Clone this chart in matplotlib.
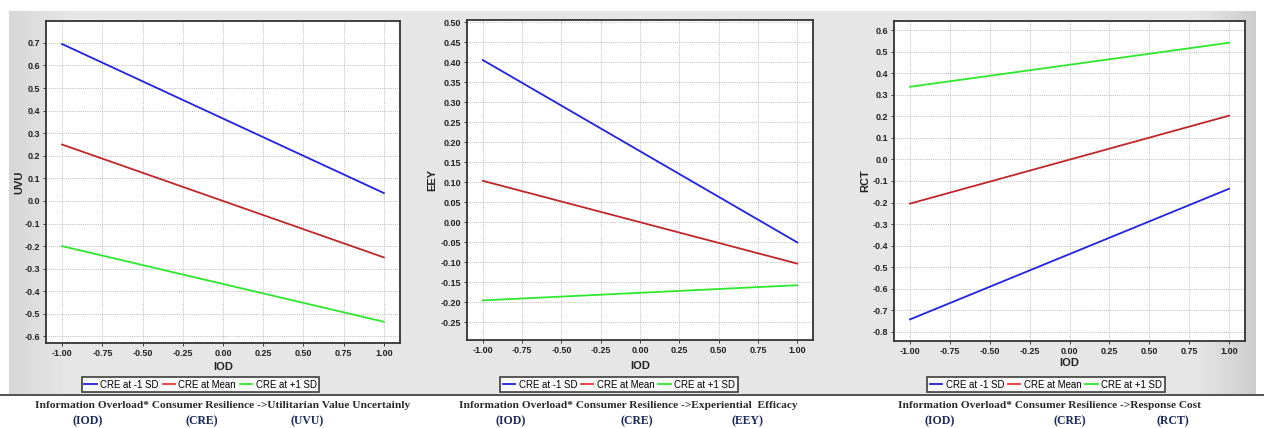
import matplotlib
matplotlib.use("Agg")
import matplotlib.pyplot as plt
from matplotlib.lines import Line2D
import numpy as np

# ---- data ----
iod = [-1.0, 1.0]
series_labels = ["CRE at -1 SD", "CRE at Mean", "CRE at +1 SD"]

uvu_low = [0.695, 0.035]
uvu_mean = [0.25, -0.25]
uvu_high = [-0.20, -0.535]

eey_low = [0.405, -0.051]
eey_mean = [0.103, -0.104]
eey_high = [-0.196, -0.158]

rct_low = [-0.742, -0.136]
rct_mean = [-0.205, 0.203]
rct_high = [0.337, 0.541]

xticks = [-1.0, -0.75, -0.5, -0.25, 0.0, 0.25, 0.5, 0.75, 1.0]
uvu_ticks = [0.7, 0.6, 0.5, 0.4, 0.3, 0.2, 0.1, 0.0, -0.1, -0.2, -0.3, -0.4, -0.5, -0.6]
eey_ticks = [0.50, 0.45, 0.40, 0.35, 0.30, 0.25, 0.20, 0.15, 0.10, 0.05, 0.0,
             -0.05, -0.10, -0.15, -0.20, -0.25]
rct_ticks = [0.6, 0.5, 0.4, 0.3, 0.2, 0.1, 0.0, -0.1, -0.2, -0.3, -0.4, -0.5,
             -0.6, -0.7, -0.8]

captions = [
    "Information Overload* Consumer Resilience ->Utilitarian Value Uncertainly",
    "Information Overload* Consumer Resilience ->Experiential  Efficacy",
    "Information Overload* Consumer Resilience ->Response Cost",
]
abbrevs = [["(IOD)", "(CRE)", "(UVU)"], ["(IOD)", "(CRE)", "(EEY)"], ["(IOD)", "(CRE)", "(RCT)"]]
ylabels = ["UVU", "EEY", "RCT"]

colors = ["#2222e0", "#c0262a", "#2ee82e"]
legend_colors = ["#2222e0", "#ee3333", "#2ee82e"]

W, H = 1264, 428
fig = plt.figure(figsize=(W / 100, H / 100), dpi=100)
fig.patch.set_facecolor("white")

# grey panel background
bg = fig.add_axes([0, 0, 1, 1], zorder=-10)
bg.set_xlim(0, W)
bg.set_ylim(H, 0)
bg.axis("off")
grad = np.tile(np.concatenate([np.linspace(0.84, 0.90, 60), np.full(1127, 0.90),
                               np.linspace(0.90, 0.80, 60)]), (10, 1))
bg.imshow(grad, cmap="gray", vmin=0, vmax=1, extent=[9, 1256, 394, 11], aspect="auto")
bg.plot([0, W], [394.5, 394.5], color="#333333", lw=1.2)

tickfont = dict(family="Liberation Sans", size=6.5, weight="bold")

panels = [
    dict(rect=[46, 21, 400, 343], ylim=(-0.629, 0.797), yt=uvu_ticks, fmt="{:.1f}",
         data=[uvu_low, uvu_mean, uvu_high], ylx=19, xlx=367),
    dict(rect=[467, 20, 813, 340], ylim=(-0.295, 0.505), yt=eey_ticks, fmt="{:.2f}",
         data=[eey_low, eey_mean, eey_high], ylx=432, xlx=366),
    dict(rect=[894, 21, 1245, 341], ylim=(-0.842, 0.642), yt=rct_ticks, fmt="{:.1f}",
         data=[rct_low, rct_mean, rct_high], ylx=865, xlx=363),
]
legend_boxes = [(88, 313), (501, 737), (928, 1164)]
caption_x = [(37, 408), (461, 796), (900, 1199)]
abbrev_x = [[88, 202, 307], [511, 637, 748], [940, 1070, 1173]]

for i, p in enumerate(panels):
    x0, y0, x1, y1 = p["rect"]
    ax = fig.add_axes([x0 / W, 1 - y1 / H, (x1 - x0) / W, (y1 - y0) / H])
    ax.set_facecolor("white")
    for s, c in zip(p["data"], colors):
        ax.plot(iod, s, color=c, lw=1.3)
    ax.set_xlim(-1.1, 1.1)
    ax.set_ylim(*p["ylim"])
    ax.set_xticks(xticks)
    ax.set_xticklabels(["{:.2f}".format(v) for v in xticks], **tickfont)
    ax.set_yticks(p["yt"])
    ax.set_yticklabels([p["fmt"].format(v) for v in p["yt"]], **tickfont)
    ax.tick_params(length=2, width=0.6, pad=2, colors="#222222")
    ax.grid(True, color="#bcbcbc", linestyle=(0, (1, 1.2)), lw=0.7)
    for sp in ax.spines.values():
        sp.set_color("#333333")
        sp.set_linewidth(1.3)
    fig.text(p["ylx"] / W, 1 - ((y0 + y1) / 2) / H, ylabels[i], rotation=90,
             ha="center", va="center", family="Liberation Sans", size=8, weight="bold",
             color="#222222")
    fig.text(((x0 + x1) / 2) / W, 1 - p["xlx"] / H, "IOD", ha="center", va="center",
             family="Liberation Sans", size=8, weight="bold", color="#222222")

    # legend
    lx0, lx1 = legend_boxes[i]
    handles = [Line2D([], [], color=c, lw=1.3) for c in legend_colors]
    leg = fig.legend(handles, series_labels, loc="center",
                     bbox_to_anchor=(((lx0 + lx1) / 2) / W, 1 - 384.5 / H),
                     ncol=3, frameon=True, fancybox=False, handlelength=1.3,
                     handletextpad=0.35, columnspacing=0.4, borderpad=0.25,
                     borderaxespad=0, prop=dict(family="Liberation Sans", size=6.9))
    leg.get_frame().set_edgecolor("#111111")
    leg.get_frame().set_linewidth(1.2)
    leg.get_frame().set_facecolor("white")

    cx0, cx1 = caption_x[i]
    fig.text(((cx0 + cx1) / 2) / W, 1 - 406 / H, captions[i], ha="center", va="center",
             family="Liberation Serif", size=8.2, weight="bold", color="#2a2a2a")
    for ab, axx in zip(abbrevs[i], abbrev_x[i]):
        fig.text(axx / W, 1 - 421 / H, ab, ha="center", va="center",
                 family="Liberation Serif", size=8.5, weight="bold", color="#1c2a5c")

fig.savefig("out.png", dpi=100)
